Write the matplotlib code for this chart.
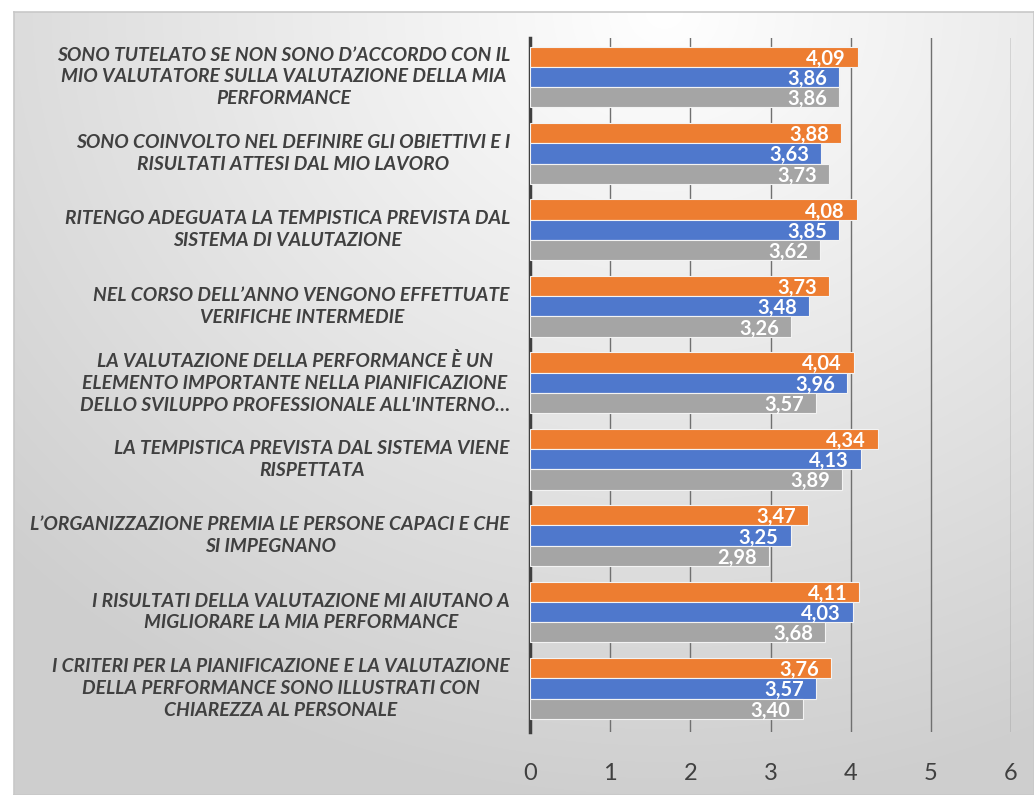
import numpy as np
import matplotlib.pyplot as plt

categories = [
    "SONO TUTELATO SE NON SONO D\u2019ACCORDO CON IL\nMIO VALUTATORE SULLA VALUTAZIONE DELLA MIA\nPERFORMANCE",
    "SONO COINVOLTO NEL DEFINIRE GLI OBIETTIVI E I\nRISULTATI ATTESI DAL MIO LAVORO",
    "RITENGO ADEGUATA LA TEMPISTICA PREVISTA DAL\nSISTEMA DI VALUTAZIONE",
    "NEL CORSO DELL\u2019ANNO VENGONO EFFETTUATE\nVERIFICHE INTERMEDIE",
    "LA VALUTAZIONE DELLA PERFORMANCE \u00c8 UN\nELEMENTO IMPORTANTE NELLA PIANIFICAZIONE\nDELLO SVILUPPO PROFESSIONALE ALL'INTERNO\u2026",
    "LA TEMPISTICA PREVISTA DAL SISTEMA VIENE\nRISPETTATA",
    "L\u2019ORGANIZZAZIONE PREMIA LE PERSONE CAPACI E CHE\nSI IMPEGNANO",
    "I RISULTATI DELLA VALUTAZIONE MI AIUTANO A\nMIGLIORARE LA MIA PERFORMANCE",
    "I CRITERI PER LA PIANIFICAZIONE E LA VALUTAZIONE\nDELLA PERFORMANCE SONO ILLUSTRATI CON\nCHIAREZZA AL PERSONALE",
]
orange_vals = [4.09, 3.88, 4.08, 3.73, 4.04, 4.34, 3.47, 4.11, 3.76]
blue_vals = [3.86, 3.63, 3.85, 3.48, 3.96, 4.13, 3.25, 4.03, 3.57]
gray_vals = [3.86, 3.73, 3.62, 3.26, 3.57, 3.89, 2.98, 3.68, 3.40]
x_ticks = [0, 1, 2, 3, 4, 5, 6]

series = [(orange_vals, "#ED7D31"), (blue_vals, "#4F78CC"), (gray_vals, "#A5A5A5")]

W, H = 1034, 795
fig = plt.figure(figsize=(W / 100, H / 100), dpi=100)
fig.patch.set_facecolor("white")

# gradient background of the chart area
bg = fig.add_axes([14 / W, 0, 1 - 14 / W, (H - 12) / H])
yy, xx = np.mgrid[0:783, 0:1020]
d = np.sqrt((xx - 650) ** 2 + (yy - 0) ** 2 * 1.3)
g = 1.0 - np.clip(d / 900, 0, 1) * 0.19
bg.imshow(np.dstack([g, g, g]), aspect="auto", extent=[0, 1, 0, 1])
bg.set_xlim(0, 1)
bg.set_ylim(0, 1)
bg.set_xticks([])
bg.set_yticks([])
for s in bg.spines.values():
    s.set_color("#c8c8c8")
    s.set_linewidth(1.2)

ax = fig.add_axes([530 / W, (H - 732) / H, (1011 - 530) / W, (732 - 38) / H])
ax.patch.set_alpha(0)

n = len(categories)
ypos = np.arange(n)[::-1]
h = 0.265
offsets = [h, 0, -h]
for (vals, col), off in zip(series, offsets):
    bars = ax.barh(ypos + off, vals, height=h, color=col,
                   edgecolor="#f3f3f3", linewidth=0.8, zorder=3)
    for b, v in zip(bars, vals):
        ax.text(v - 0.15, b.get_y() + h / 2, f"{v:.2f}".replace(".", ","),
                ha="right", va="center_baseline", color="white", fontsize=14.5,
                fontweight="bold", family="Lato", zorder=4)

ax.set_xlim(0, 6)
ax.set_ylim(-0.57, n - 1 + 0.51)
ax.set_xticks(x_ticks)
ax.set_xticklabels([str(t) for t in x_ticks], fontsize=17, color="#404040", family="Lato")
ax.tick_params(axis="x", length=0, pad=22)
ax.set_yticks(ypos)
ax.set_yticklabels([])
ax.tick_params(axis="y", length=0)
ax.grid(axis="x", color="#707070", linewidth=1.0, zorder=0)
for s in ["top", "right", "bottom"]:
    ax.spines[s].set_visible(False)
ax.spines["left"].set_color("#404040")
ax.spines["left"].set_linewidth(2.5)

for y, lab in zip(ypos, categories):
    ax.text(-0.25, y, lab, ha="right", va="center", multialignment="center",
            fontsize=13.9, fontweight="bold", fontstyle="italic", color="#404040",
            family="Lato", linespacing=1.35, transform=ax.transData, clip_on=False)

fig.savefig("out.png", dpi=100)
